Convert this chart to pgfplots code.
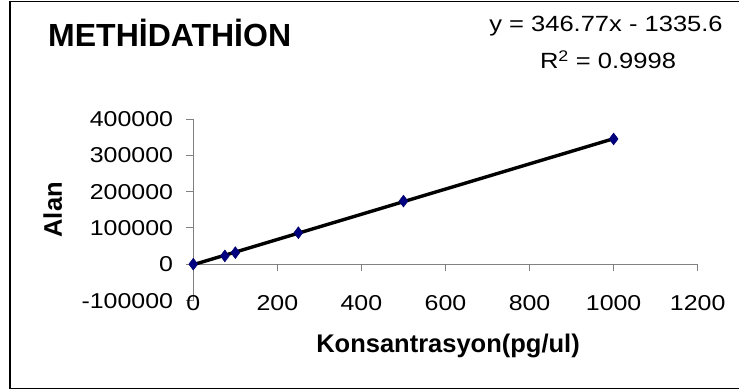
\documentclass[border=0pt]{standalone}
\usepackage{fontspec}
\setmainfont{Liberation Sans}
\newfontfamily\stretchfont{Liberation Sans}[FakeStretch=1.16]
\usepackage{pgfplots}
\usepackage{pgfplotstable}
\pgfplotsset{compat=1.18}
\definecolor{navy}{HTML}{000080}
\definecolor{axgray}{HTML}{808080}
\pgfplotstableread{
x y
0 300
75 23000
100 32000
250 87000
500 174000
1000 345000
}\data
\begin{document}
\begin{tikzpicture}
\useasboundingbox (0bp,0bp) rectangle (739bp,390bp);
\draw[black, line width=1.5bp] (10bp,1.5bp) rectangle (745bp,388.5bp);
\begin{axis}[
  at={(193.3bp,89.4bp)}, anchor=south west,
  scale only axis, width=504.4bp, height=181.6bp,
  xmin=0, xmax=1200, ymin=-100000, ymax=400000,
  axis x line*=middle, axis y line*=left,
  axis line style={axgray, line width=1bp},
  hide obscured x ticks=false, hide obscured y ticks=false,
  scaled y ticks=false, scaled x ticks=false,
  xtick={0,200,400,600,800,1000,1200},
  xticklabels={0,200,400,600,800,1000,1200},
  ytick={-100000,0,100000,200000,300000,400000},
  yticklabels={-100000,0,100000,200000,300000,400000},
  tick align=outside, major tick length=7bp,
  tick style={axgray, line width=1bp},
  clip=false,
  yticklabel style={font=\stretchfont\fontsize{21.5bp}{25bp}\selectfont, anchor=east, inner sep=0pt, xshift=-13bp},
  xticklabel style={font=\stretchfont\fontsize{21.5bp}{25bp}\selectfont, anchor=base, inner sep=0pt, yshift=-39bp},
  xlabel={Konsantrasyon(pg/ul)},
  ylabel={Alan},
  xlabel style={font=\bfseries\fontsize{25.5bp}{30bp}\selectfont, at={(axis description cs:0.505,-0.2885)}, anchor=base, inner sep=0pt},
  ylabel style={font=\bfseries\fontsize{25.5bp}{30bp}\selectfont, at={(axis description cs:-0.2788,0.5)}, anchor=center, inner sep=0pt},
]
\addplot[only marks, mark=diamond*, mark size=6bp, mark options={fill=navy, draw=navy!80!black}] table[x=x,y=y] {\data};
\addplot[black, line width=3.4bp] table[x=x, y={create col/linear regression={y=y}}] {\data};
\end{axis}
\node[anchor=base west, inner sep=0pt, font=\bfseries\fontsize{32bp}{38bp}\selectfont] at (48bp,343.3bp) {METHİDATHİON};
\node[anchor=base, inner sep=0pt, font=\stretchfont\fontsize{22bp}{26bp}\selectfont] at (606bp,358.5bp) {y = 346.77x - 1335.6};
\node[anchor=base, inner sep=0pt, font=\stretchfont\fontsize{22bp}{26bp}\selectfont] at (608bp,321bp) {R\textsuperscript{2} = 0.9998};
\end{tikzpicture}
\end{document}
